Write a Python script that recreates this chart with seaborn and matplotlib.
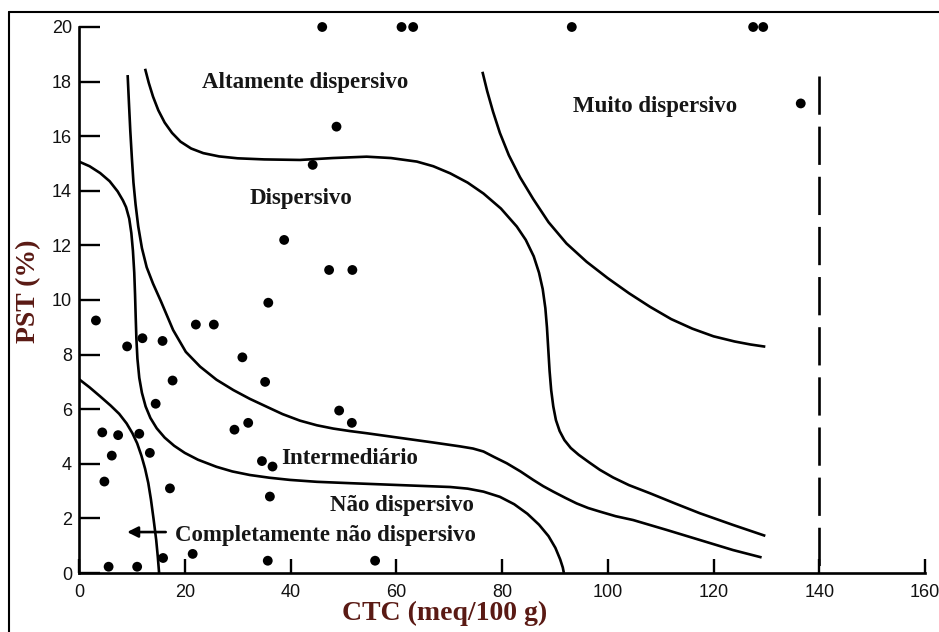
import matplotlib
matplotlib.use("Agg")
import matplotlib.pyplot as plt
import seaborn as sns
import pandas as pd
from matplotlib.lines import Line2D

# ---- observed soil samples (CTC, PST) ----
ctc = [46.0, 61.0, 63.2, 93.2, 127.5, 129.4, 136.5,
       48.7, 44.2, 38.8, 47.3, 51.7, 35.8,
       3.2, 9.1, 12.0, 15.8, 22.1, 25.5, 30.9, 35.2, 17.7, 14.5,
       4.4, 7.4, 11.4, 6.2, 13.4, 4.8, 17.2, 29.4, 32.0, 34.6, 36.6, 36.1,
       5.6, 11.0, 15.9, 21.5, 35.7, 49.2, 51.6, 56.0]
pst = [20.0, 20.0, 20.0, 20.0, 20.0, 20.0, 17.2,
       16.35, 14.95, 12.2, 11.1, 11.1, 9.9,
       9.25, 8.3, 8.6, 8.5, 9.1, 9.1, 7.9, 7.0, 7.05, 6.2,
       5.15, 5.05, 5.1, 4.3, 4.4, 3.35, 3.1, 5.25, 5.5, 4.1, 3.9, 2.8,
       0.23, 0.23, 0.55, 0.7, 0.45, 5.95, 5.5, 0.45]

# ---- classification boundary curves ----
curve_a_x = [0, 2, 4, 6, 7.6, 9.0, 10.1, 11.0, 11.8, 12.5, 13.1, 13.6, 14.1, 14.6, 14.9, 15.15]
curve_a_y = [7.1, 6.8, 6.47, 6.13, 5.83, 5.48, 5.12, 4.75, 4.3, 3.82, 3.3, 2.7, 1.98, 1.21, 0.6, 0.0]

curve_l_x = [0, 2, 4, 5.8, 7.3, 8.3, 8.9, 9.5, 9.9, 10.2, 10.45, 10.6, 10.72, 10.85, 11.05,
             11.4, 11.9, 12.6, 13.5, 14.7, 16.2, 18.0, 20.0, 22.5, 26.0, 29.0, 32.3, 36.0,
             39.9, 45.0, 51.3, 60.7, 70.2, 73.5, 76.5, 79.6, 82.3, 84.8, 87.0, 88.8, 90.1,
             91.0, 91.5, 91.7]
curve_l_y = [15.07, 14.9, 14.65, 14.35, 13.98, 13.65, 13.4, 12.98, 12.45, 11.8, 11.0, 10.2,
             9.4, 8.6, 7.85, 7.15, 6.6, 6.1, 5.68, 5.3, 4.96, 4.66, 4.4, 4.15, 3.89, 3.72,
             3.59, 3.49, 3.41, 3.34, 3.29, 3.22, 3.15, 3.09, 2.98, 2.79, 2.52, 2.17, 1.77,
             1.35, 0.92, 0.5, 0.2, 0.0]

curve_t_x = [9.2, 9.45, 9.7, 10.0, 10.3, 10.7, 11.2, 11.9, 12.8, 14.0, 15.5, 17.8, 20.2,
             22.9, 26.0, 29.2, 32.3, 35.5, 38.5, 41.8, 45.0, 48.1, 51.2, 54.4, 60.7, 67.0,
             72.0, 74.5, 76.5, 78.5, 80.9, 83.5, 85.9, 87.8, 89.7, 92.0, 94.1, 96.3, 98.5,
             101.5, 104.8, 111.1, 117.4, 123.7, 129.1]
curve_t_y = [18.24, 17.2, 16.2, 15.2, 14.3, 13.5, 12.7, 11.9, 11.2, 10.6, 9.95, 8.9, 8.1,
             7.56, 7.08, 6.70, 6.38, 6.09, 5.82, 5.58, 5.41, 5.29, 5.2, 5.12, 4.95, 4.78,
             4.64, 4.56, 4.45, 4.25, 4.02, 3.72, 3.41, 3.18, 2.98, 2.75, 2.55, 2.38, 2.25,
             2.08, 1.94, 1.58, 1.21, 0.84, 0.57]

curve_d_x = [12.5, 13.2, 14.0, 15.0, 16.2, 17.6, 19.2, 21.2, 23.5, 26.5, 30.0, 35.0, 41.8,
             48.0, 54.4, 59.0, 63.9, 67.0, 70.2, 73.5, 76.5, 79.8, 82.8, 84.5, 86.0, 87.0,
             87.7, 88.2, 88.5, 88.75, 89.0, 89.3, 89.7, 90.2, 90.9, 91.8, 93.0, 94.5, 96.5,
             98.5, 101.0, 104.0, 108.0, 112.7, 117.4, 123.7, 129.8]
curve_d_y = [18.47, 17.95, 17.45, 16.95, 16.5, 16.12, 15.8, 15.55, 15.38, 15.26, 15.19,
             15.15, 15.13, 15.2, 15.25, 15.2, 15.07, 14.9, 14.64, 14.3, 13.9, 13.35, 12.69,
             12.2, 11.6, 11.0, 10.4, 9.7, 9.0, 8.2, 7.4, 6.7, 6.1, 5.6, 5.2, 4.87, 4.58,
             4.33, 4.05, 3.78, 3.5, 3.22, 2.92, 2.55, 2.19, 1.76, 1.36]

curve_m_x = [76.3, 77.2, 78.3, 79.6, 81.3, 83.4, 85.9, 88.8, 92.2, 96.0, 100.0, 104.0,
             108.0, 112.0, 116.0, 120.0, 124.0, 127.0, 129.8]
curve_m_y = [18.36, 17.65, 16.9, 16.12, 15.3, 14.5, 13.7, 12.85, 12.07, 11.4, 10.8, 10.25,
             9.75, 9.3, 8.95, 8.67, 8.48, 8.37, 8.29]

limit_x = [140, 140]
limit_y = [18.2, 0]

region_labels = ["Altamente dispersivo", "Dispersivo", "Muito dispersivo",
                 "Intermediário", "Não dispersivo", "Completamente não dispersivo"]
label_x = [42.8, 41.9, 109.0, 51.1, 61.0, 46.7]
label_y = [17.98, 13.7, 17.1, 4.2, 2.49, 1.39]

xticks = list(range(0, 161, 20))
yticks = list(range(0, 21, 2))

# ---- drawing ----
sns.set_theme(style="white")
plt.rcParams["font.family"] = ["Liberation Sans", "DejaVu Sans"]

fig = plt.figure(figsize=(9.39, 6.32), dpi=100)
ax = fig.add_axes([79 / 939, 1 - 573 / 632, (925 - 79) / 939, 546 / 632])

for cx, cy in [(curve_a_x, curve_a_y), (curve_l_x, curve_l_y), (curve_t_x, curve_t_y),
               (curve_d_x, curve_d_y), (curve_m_x, curve_m_y)]:
    sns.lineplot(x=cx, y=cy, ax=ax, sort=False, estimator=None, color="black",
                 linewidth=1.9, solid_joinstyle="round", solid_capstyle="butt")

sns.lineplot(x=limit_x, y=limit_y, ax=ax, sort=False, estimator=None, color="black",
             linewidth=1.9, linestyle=(0, (14.5, 4.5)))

df = pd.DataFrame({"CTC": ctc, "PST": pst})
sns.scatterplot(data=df, x="CTC", y="PST", ax=ax, color="black", s=50,
                edgecolor="none", clip_on=False, zorder=5)

for t, x, y in zip(region_labels, label_x, label_y):
    ax.text(x, y, t, ha="center", va="center", fontsize=16.5, fontweight="bold",
            family=["Liberation Serif", "DejaVu Serif"], color="#161616")

ax.annotate("", xy=(9.1, 1.5), xytext=(16.4, 1.5),
            arrowprops=dict(arrowstyle="-|>", color="black", lw=1.9,
                            mutation_scale=16, shrinkA=0, shrinkB=0))

ax.set_xlim(0, 160)
ax.set_ylim(0, 20)
ax.set_xticks(xticks)
ax.set_yticks(yticks)
ax.set_xlabel("")
ax.set_ylabel("")
for s in ["top", "right"]:
    ax.spines[s].set_visible(False)
for s in ["left", "bottom"]:
    ax.spines[s].set_linewidth(1.9)
    ax.spines[s].set_color("black")
ax.tick_params(axis="y", direction="in", length=15, width=1.7, labelsize=13,
               pad=5, left=True, colors="black")
ax.tick_params(axis="x", direction="in", length=10, width=1.7, labelsize=13,
               pad=8, bottom=True, colors="black")
for lab in ax.get_xticklabels() + ax.get_yticklabels():
    lab.set_color("#111111")

fig.text(445 / 939, 1 - 613 / 632, "CTC (meq/100 g)", ha="center", va="center",
         fontsize=20, fontweight="bold", family=["Liberation Serif", "DejaVu Serif"],
         color="#5a1a14")
fig.text(29 / 939, 1 - 291 / 632, "PST (%)", ha="center", va="center", rotation=90,
         fontsize=20, fontweight="bold", family=["Liberation Serif", "DejaVu Serif"],
         color="#5a1a14")

# outer frame (left and top edges)
fig.add_artist(Line2D([9 / 939, 9 / 939], [0, 1 - 12 / 632], transform=fig.transFigure,
                      color="black", lw=1.5))
fig.add_artist(Line2D([9 / 939, 1], [1 - 12 / 632, 1 - 12 / 632], transform=fig.transFigure,
                      color="black", lw=1.5))

fig.savefig("out.png", dpi=100, facecolor="white")
